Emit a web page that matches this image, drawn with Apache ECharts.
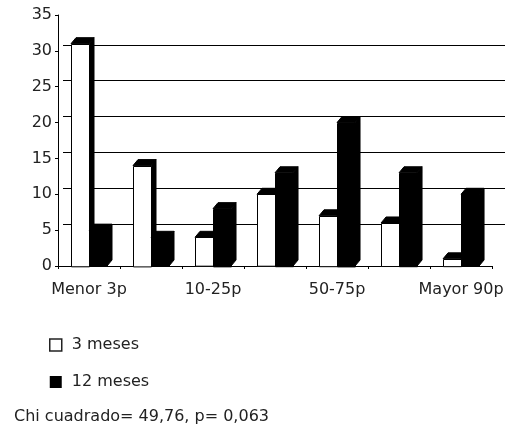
<!DOCTYPE html>
<html>
<head>
<meta charset="utf-8">
<script src="https://cdn.jsdelivr.net/npm/echarts@6/dist/echarts.min.js"></script>
<style>
html,body{margin:0;padding:0;background:#fff;}
#chart{width:506px;height:427px;}
</style>
</head>
<body>
<div id="chart"></div>
<script>
const categories = ['Menor 3p', '3-10p', '10-25p', '25-50p', '50-75p', '75-90p', 'Mayor 90p'];
const meses3 = [31, 14, 4, 10, 7, 6, 1];
const meses12 = [5, 4, 8, 13, 20, 13, 10];
const seriesNames = ['3 meses', '12 meses'];
const yMin = 0, yMax = 35, yStep = 5;
const noteText = 'Chi cuadrado= 49,76, p= 0,063';

const FONT = 'DejaVu Sans';
const TXT = '#222';

function makeRender(side, frontColor) {
  return function (params, api) {
    const idx = api.value(0);
    const val = api.value(1);
    const base = api.coord([idx, 0]);
    const top = api.coord([idx, val]);
    const w = 18, dx = 5, dy = 6;
    const x0 = side === 0 ? base[0] - w : base[0];
    const x1 = x0 + w;
    const y0 = base[1], y1 = top[1];
    return {
      type: 'group',
      children: [
        { type: 'polygon', shape: { points: [[x1, y1], [x1 + dx, y1 - dy], [x1 + dx, y0 - dy], [x1, y0]] },
          style: { fill: '#000', stroke: '#000', lineWidth: 1 } },
        { type: 'polygon', shape: { points: [[x0, y1], [x0 + dx, y1 - dy], [x1 + dx, y1 - dy], [x1, y1]] },
          style: { fill: '#000', stroke: '#000', lineWidth: 1 } },
        { type: 'rect', shape: { x: Math.round(x0) + 0.5, y: Math.round(y1) + 0.5, width: w, height: y0 - y1 },
          style: { fill: frontColor, stroke: '#000', lineWidth: 1 } }
      ]
    };
  };
}

const chart = echarts.init(document.getElementById('chart'), null, { renderer: 'canvas' });
chart.setOption({
  animation: false,
  backgroundColor: '#fff',
  title: {
    text: noteText, left: 9, top: 404,
    textStyle: { fontFamily: FONT, fontSize: 16, fontWeight: 'normal', color: TXT }
  },
  legend: {
    orient: 'vertical', left: 44, top: 332,
    itemWidth: 12, itemHeight: 12, itemGap: 21,
    data: [
      { name: seriesNames[0], icon: 'rect', itemStyle: { color: '#fff', borderColor: '#222', borderWidth: 1.5 } },
      { name: seriesNames[1], icon: 'rect', itemStyle: { color: '#000', borderWidth: 0 } }
    ],
    textStyle: { fontFamily: FONT, fontSize: 16, color: TXT, padding: [0, 0, 0, 5] }
  },
  grid: [
    { left: 58, right: 6, top: 15, bottom: 161, containLabel: false },
    { left: 63, right: 1, top: 9, bottom: 167, containLabel: false }
  ],
  xAxis: [
    {
      type: 'category', gridIndex: 0, data: categories, boundaryGap: true,
      axisLine: { show: true, lineStyle: { color: '#000', width: 1 } },
      axisTick: { show: true, interval: 0, length: 3, lineStyle: { color: '#000' } },
      axisLabel: { interval: 1, fontFamily: FONT, fontSize: 16, color: TXT, margin: 16 },
      splitLine: { show: false }
    },
    { type: 'value', gridIndex: 1, show: false, min: 0, max: 1 }
  ],
  yAxis: [
    {
      type: 'value', gridIndex: 0, min: yMin, max: yMax, interval: yStep,
      axisLine: { show: true, lineStyle: { color: '#000', width: 1 } },
      axisTick: { show: true, length: 3, lineStyle: { color: '#000' } },
      axisLabel: { fontFamily: FONT, fontSize: 16, color: TXT, margin: 6, padding: [3, 0, 0, 0] },
      splitLine: { show: false }
    },
    {
      type: 'value', gridIndex: 1, min: yMin, max: yMax, interval: yStep,
      axisLine: { show: false }, axisTick: { show: false }, axisLabel: { show: false },
      splitLine: { show: true, showMinLine: false, showMaxLine: false, lineStyle: { color: '#000', width: 1.2 } }
    }
  ],
  series: [
    {
      name: seriesNames[0], type: 'custom', xAxisIndex: 0, yAxisIndex: 0,
      itemStyle: { color: '#fff', borderColor: '#222', borderWidth: 1.5 },
      renderItem: makeRender(0, '#fff'),
      encode: { x: 0, y: 1 },
      data: meses3.map((v, i) => [i, v]), z: 5
    },
    {
      name: seriesNames[1], type: 'custom', xAxisIndex: 0, yAxisIndex: 0,
      itemStyle: { color: '#000' },
      renderItem: makeRender(1, '#000'),
      encode: { x: 0, y: 1 },
      data: meses12.map((v, i) => [i, v]), z: 6
    }
  ]
});
</script>
</body>
</html>
